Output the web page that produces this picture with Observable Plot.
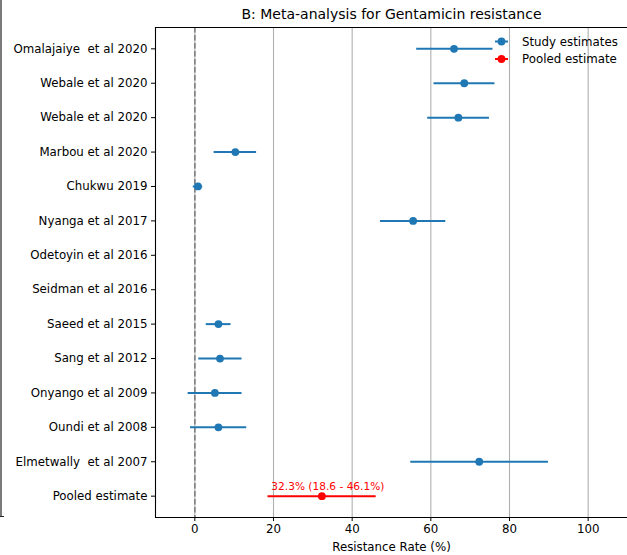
<!DOCTYPE html>
<html>
<head>
<meta charset="utf-8">
<script src="https://cdn.jsdelivr.net/npm/d3@7"></script>
<script src="https://cdn.jsdelivr.net/npm/@observablehq/plot@0.6"></script>
<style>
  html, body { margin: 0; padding: 0; background: #fff; }
  #wrap { position: relative; width: 627px; height: 555px; overflow: hidden; font-family: "DejaVu Sans", sans-serif; }
  #edge { position: absolute; left: 0; top: 0; width: 2px; height: 517px; background: #7a7a7a; }
  #edgeTick { position: absolute; left: 0; top: 516px; width: 4px; height: 1px; background: #222; }
</style>
</head>
<body>
<div id="wrap"><div id="edge"></div><div id="edgeTick"></div></div>
<script>
const title = "B: Meta-analysis for Gentamicin resistance";
const xLabel = "Resistance Rate (%)";
const studies = ["Omalajaiye  et al 2020", "Webale et al 2020", "Webale et al 2020", "Marbou et al 2020", "Chukwu 2019", "Nyanga et al 2017", "Odetoyin et al 2016", "Seidman et al 2016", "Saeed et al 2015", "Sang et al 2012", "Onyango et al 2009", "Oundi et al 2008", "Elmetwally  et al 2007", "Pooled estimate"];
const estimates = [65.9, 68.5, 67.0, 10.3, 0.8, 55.5, NaN, NaN, 6.0, 6.4, 5.1, 6.0, 72.3];
const lower =     [56.4, 60.8, 59.2, 4.9, -0.4, 47.2, NaN, NaN, 2.9, 1.0, -1.7, -1.1, 54.9];
const upper =     [75.8, 76.3, 74.9, 15.7, 2.0, 63.8, NaN, NaN, 9.2, 12.0, 12.0, 13.2, 89.9];
const pooled = {est: 32.3, lo: 18.6, hi: 46.1};
const xTicks = [0, 20, 40, 60, 80, 100];
const legendLabels = ["Study estimates", "Pooled estimate"];
const blue = "#1f77b4", red = "red";

const studyData = estimates.map((e, i) => ({i, est: e, lo: lower[i], hi: upper[i]})).filter(d => !isNaN(d.est));
const pooledData = [{i: studies.length - 1, est: pooled.est, lo: pooled.lo, hi: pooled.hi,
  label: `${pooled.est.toFixed(1)}% (${pooled.lo.toFixed(1)} - ${pooled.hi.toFixed(1)}%)`}];
const yIdx = studies.map((_, i) => i);

const chart = Plot.plot({
  width: 627,
  height: 555,
  marginTop: 27,
  marginBottom: 38,
  marginLeft: 155,
  marginRight: 0,
  style: {fontFamily: "DejaVu Sans, sans-serif", fontSize: "11.8px", color: "black", background: "white"},
  x: {domain: [-10, 110]},
  y: {domain: [13.62, -0.62]},
  marks: [
    Plot.gridX(xTicks, {stroke: "#b0b0b0", strokeOpacity: 1, strokeWidth: 1.1}),
    Plot.ruleX([0], {stroke: "#808080", strokeWidth: 1.6, strokeDasharray: "5.5,2.5"}),
    Plot.ruleY(studyData, {y: "i", x1: "lo", x2: "hi", stroke: blue, strokeWidth: 2}),
    Plot.dot(studyData, {x: "est", y: "i", r: 3.9, fill: blue, stroke: "none"}),
    Plot.ruleY(pooledData, {y: "i", x1: "lo", x2: "hi", stroke: red, strokeWidth: 2}),
    Plot.dot(pooledData, {x: "est", y: "i", r: 3.9, fill: red, stroke: "none"}),
    Plot.text(pooledData, {x: "est", y: "i", text: "label", fill: red, fontSize: 10.6, dx: 6, dy: -9.5, lineAnchor: "middle"}),
    Plot.ruleX([-10], {stroke: "black", strokeWidth: 1.1}),
    Plot.ruleY([-0.62], {stroke: "black", strokeWidth: 1.1}),
    Plot.ruleY([13.62], {stroke: "black", strokeWidth: 1.1}),
    Plot.axisX(xTicks, {anchor: "bottom", tickSize: 4, tickPadding: 3, label: null, fontSize: 11.8, fill: "black", stroke: "black"}),
    Plot.axisY(yIdx, {anchor: "left", tickSize: 4, tickPadding: 4, label: null, tickFormat: i => studies[i], fontSize: 11.8, fill: "black", stroke: "black"}),
    Plot.text([xLabel], {frameAnchor: "bottom", dy: 30, lineAnchor: "middle", fontSize: 11.8, fill: "black"}),
    Plot.text([title], {frameAnchor: "top", dy: -13, lineAnchor: "middle", fontSize: 14, fill: "black"})
  ]
});

// Legend (matplotlib-style errorbar handles)
const svg = d3.select(chart);
const leg = svg.append("g").attr("font-family", "DejaVu Sans, sans-serif").attr("font-size", 11.8).attr("text-anchor", "start");
[[blue, 41.5], [red, 59]].forEach(([c, y], k) => {
  leg.append("line").attr("x1", 495).attr("x2", 508).attr("y1", y).attr("y2", y).attr("stroke", c).attr("stroke-width", 2);
  leg.append("circle").attr("cx", 501.5).attr("cy", y).attr("r", 3.9).attr("fill", c);
  leg.append("text").attr("x", 522).attr("y", y).attr("dy", "0.35em").attr("text-anchor", "start").attr("fill", "black").text(legendLabels[k]);
});

document.getElementById("wrap").appendChild(chart);
</script>
</body>
</html>
